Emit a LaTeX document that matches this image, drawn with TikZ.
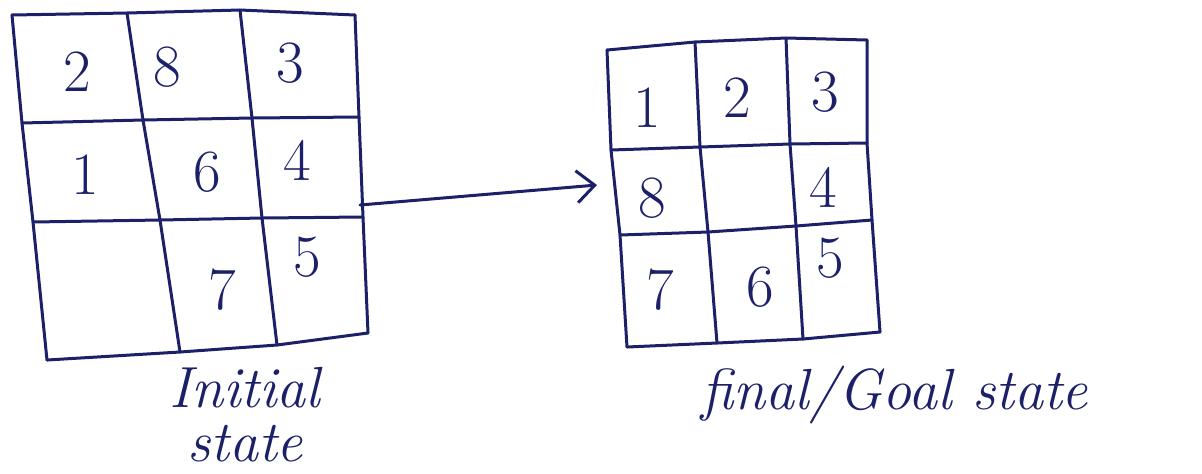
\documentclass[tikz,border=0pt]{standalone}
\usetikzlibrary{arrows.meta}
\definecolor{ink}{RGB}{28,32,105}
\begin{document}
\begin{tikzpicture}[x=0.5pt,y=-0.5pt,
  gridline/.style={draw=ink,line width=1.5pt,line cap=round,line join=round},
  digit/.style={text=ink,font=\fontsize{30}{32}\selectfont,inner sep=0pt},
  caption/.style={text=ink,font=\fontsize{29}{27}\selectfont\itshape,inner sep=0pt,align=center},
  conn/.style={draw=ink,line width=1.5pt,line cap=round,-{Straight Barb[length=9pt,width=16pt,line width=1.5pt]}}]
\useasboundingbox (0,0) rectangle (1202,473);
% left grid lattice
\coordinate (L00) at (12,15);  \coordinate (L01) at (127,13); \coordinate (L02) at (240,10); \coordinate (L03) at (355,15);
\coordinate (L10) at (22,123); \coordinate (L11) at (143,120); \coordinate (L12) at (252,118); \coordinate (L13) at (359,117);
\coordinate (L20) at (33,222); \coordinate (L21) at (160,220); \coordinate (L22) at (262,218); \coordinate (L23) at (363,217);
\coordinate (L30) at (47,360); \coordinate (L31) at (180,352); \coordinate (L32) at (277,345); \coordinate (L33) at (368,333);
\foreach \r in {0,1,2,3} {\draw[gridline] (L\r0) -- (L\r1) -- (L\r2) -- (L\r3);}
\foreach \c in {0,1,2,3} {\draw[gridline] (L0\c) -- (L1\c) -- (L2\c) -- (L3\c);}
% right grid lattice
\coordinate (R00) at (607,50);  \coordinate (R01) at (695,42);  \coordinate (R02) at (786,38);  \coordinate (R03) at (867,40);
\coordinate (R10) at (611,150); \coordinate (R11) at (700,147); \coordinate (R12) at (790,144); \coordinate (R13) at (867,143);
\coordinate (R20) at (620,235); \coordinate (R21) at (708,232); \coordinate (R22) at (796,226); \coordinate (R23) at (872,220);
\coordinate (R30) at (627,347); \coordinate (R31) at (717,343); \coordinate (R32) at (803,339); \coordinate (R33) at (880,332);
\foreach \r in {0,1,2,3} {\draw[gridline] (R\r0) -- (R\r1) -- (R\r2) -- (R\r3);}
\foreach \c in {0,1,2,3} {\draw[gridline] (R0\c) -- (R1\c) -- (R2\c) -- (R3\c);}
% initial digits
\node[digit] (i2) at (77,72) {2};
\node[digit] (i8) at (167,67) {8};
\node[digit] (i3) at (290,63) {3};
\node[digit] (i1) at (85,175) {1};
\node[digit] (i6) at (207,172) {6};
\node[digit] (i4) at (297,160) {4};
\node[digit] (i7) at (222,290) {7};
\node[digit] (i5) at (307,257) {5};
% goal digits
\node[digit] (g1) at (647,108) {1};
\node[digit] (g2) at (737,98) {2};
\node[digit] (g3) at (825,92) {3};
\node[digit] (g8) at (652,198) {8};
\node[digit] (g4) at (823,187) {4};
\node[digit] (g7) at (660,290) {7};
\node[digit] (g6) at (760,287) {6};
\node[digit] (g5) at (830,258) {5};
% arrow
\coordinate (a1) at (360,205);
\coordinate (a2) at (597,185);
\draw[conn] (a1) -- (a2);
% captions
\node[caption] (cini) at (245,415) {Initial\\state};
\node[caption] (cgoal) at (895,395) {final/Goal state};
\end{tikzpicture}
\end{document}
